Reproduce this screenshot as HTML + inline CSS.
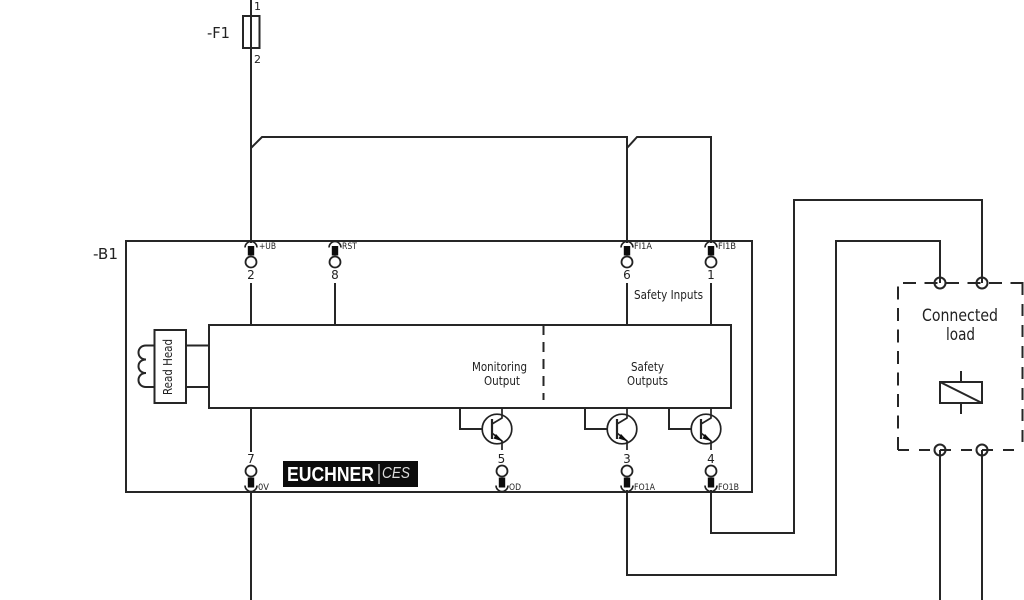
<!DOCTYPE html>
<html>
<head>
<meta charset="utf-8">
<style>
html,body{margin:0;padding:0;background:#fff;width:1024px;height:600px;overflow:hidden}
svg{display:block}
text{font-family:"DejaVu Sans","Liberation Sans",sans-serif;fill:#222}
</style>
</head>
<body>
<svg width="1024" height="600" viewBox="0 0 1024 600" xmlns="http://www.w3.org/2000/svg">
<defs>
<g id="pt">
  <path d="M-6,6.500 A6,6 0 0 1 6,6.500" fill="none" stroke="#222" stroke-width="1.600"/>
  <rect x="-3.200" y="5" width="6.400" height="9.500" fill="#0c0c0c"/>
  <circle cx="0" cy="21" r="5.500" fill="#fff" stroke="#222" stroke-width="1.800"/>
</g>
<g id="pb">
  <path d="M-6,-6.500 A6,6 0 0 0 6,-6.500" fill="none" stroke="#222" stroke-width="1.600"/>
  <rect x="-3.200" y="-14.500" width="6.400" height="10" fill="#0c0c0c"/>
  <circle cx="0" cy="-21" r="5.500" fill="#fff" stroke="#222" stroke-width="1.800"/>
</g>
<g id="tr">
  <circle cx="0" cy="0" r="14.800" fill="#fff" stroke="#222" stroke-width="1.700"/>
  <path d="M-5,-10 V10" stroke="#222" stroke-width="2.200" fill="none"/>
  <path d="M5,-21 V-11 L-5,-5" stroke="#222" stroke-width="1.700" fill="none"/>
  <path d="M-5,4 L5,12 V21" stroke="#222" stroke-width="1.700" fill="none"/>
  <path d="M-1,5 L6,12.500 L-3.500,9.500 Z" fill="#0c0c0c"/>
</g>
</defs>

<g fill="none" stroke="#262626" stroke-width="2">
  <path d="M251,0 V243"/>
  <path d="M251,148 L262,137 H627 V243"/>
  <path d="M627,148 L637,137 H711 V243"/>
  <rect x="243" y="16" width="16.500" height="32"/>
  <rect x="126" y="241" width="626" height="251"/>
  <rect x="209" y="325" width="522" height="83"/>
  <path d="M251,283 V325 M335,283 V325 M627,283 V325 M711,283 V325"/>
  <rect x="154.500" y="330" width="31.500" height="73"/>
  <path d="M186,345.500 H209 M186,387 H209"/>
  <path d="M154,345.500 H146 C136,345.500 136,359.500 146,359.500 C136,359.500 136,373 146,373 C136,373 136,387 146,387 H154"/>
  <path d="M543.500,325 V400" stroke-dasharray="10 7"/>
  <path d="M460,408 V429 H491 M585,408 V429 H616 M669,408 V429 H699"/>
  <path d="M251,408 V452"/>
  <path d="M251,492 V600"/>
  <path d="M711,490 V533 H794 V200 H982 V283"/>
  <path d="M627,490 V575 H836 V241 H940 V283"/>
  <path d="M940,450 V600 M982,450 V600"/>
  <path d="M898,450 V283 H1024" stroke-dasharray="13 8.500"/>
  <path d="M898,450 H1024" stroke-dasharray="11 10"/>
  <path d="M1022.500,283 V450" stroke-dasharray="12 9"/>
  <rect x="940" y="382" width="42" height="21"/>
  <path d="M940,382 L982,403 M961,371 V382 M961,403 V414"/>
  <circle cx="940" cy="283" r="5.500"/>
  <circle cx="982" cy="283" r="5.500"/>
  <circle cx="940" cy="450" r="5.500"/>
  <circle cx="982" cy="450" r="5.500"/>
</g>

<use href="#pt" x="251" y="241"/>
<use href="#pt" x="335" y="241"/>
<use href="#pt" x="627" y="241"/>
<use href="#pt" x="711" y="241"/>
<use href="#pb" x="251" y="492"/>
<use href="#pb" x="502" y="492"/>
<use href="#pb" x="627" y="492"/>
<use href="#pb" x="711" y="492"/>

<use href="#tr" x="497" y="429"/>
<use href="#tr" x="622" y="429"/>
<use href="#tr" x="706" y="429"/>

<rect x="283" y="461" width="135" height="26" fill="#0c0c0c"/>
<text x="287" y="481" font-size="20" font-weight="700" textLength="87" lengthAdjust="spacingAndGlyphs" style="font-family:'Liberation Sans',sans-serif;fill:#fff">EUCHNER</text>
<path d="M379,464 V484" stroke="#fff" stroke-width="1"/>
<text x="382" y="478" font-size="16" font-style="italic" textLength="28" lengthAdjust="spacingAndGlyphs" style="font-family:'Liberation Sans',sans-serif;fill:#ddd">CES</text>

<text x="207" y="38" font-size="15" textLength="23" lengthAdjust="spacingAndGlyphs">-F1</text>
<text x="93" y="259" font-size="15" textLength="25" lengthAdjust="spacingAndGlyphs">-B1</text>
<text x="254" y="10" font-size="11">1</text>
<text x="254" y="63" font-size="11">2</text>

<g font-size="9">
<text x="259" y="249" textLength="17" lengthAdjust="spacingAndGlyphs">+UB</text>
<text x="342" y="249" textLength="15" lengthAdjust="spacingAndGlyphs">RST</text>
<text x="634" y="249" textLength="18" lengthAdjust="spacingAndGlyphs">FI1A</text>
<text x="718" y="249" textLength="18" lengthAdjust="spacingAndGlyphs">FI1B</text>
<text x="258" y="490" textLength="11" lengthAdjust="spacingAndGlyphs">0V</text>
<text x="509" y="490" textLength="12" lengthAdjust="spacingAndGlyphs">OD</text>
<text x="634" y="490" textLength="21" lengthAdjust="spacingAndGlyphs">FO1A</text>
<text x="718" y="490" textLength="21" lengthAdjust="spacingAndGlyphs">FO1B</text>
</g>

<g font-size="12" text-anchor="middle">
<text x="251" y="279">2</text>
<text x="335" y="279">8</text>
<text x="627" y="279">6</text>
<text x="711" y="279">1</text>
<text x="251" y="463">7</text>
<text x="501.500" y="463">5</text>
<text x="627" y="463">3</text>
<text x="711" y="463">4</text>
</g>

<text x="634" y="299" font-size="12" textLength="69" lengthAdjust="spacingAndGlyphs">Safety Inputs</text>
<text x="472" y="371" font-size="12" textLength="55" lengthAdjust="spacingAndGlyphs">Monitoring</text>
<text x="484" y="385" font-size="12" textLength="36" lengthAdjust="spacingAndGlyphs">Output</text>
<text x="631" y="371" font-size="12" textLength="33" lengthAdjust="spacingAndGlyphs">Safety</text>
<text x="627" y="385" font-size="12" textLength="41" lengthAdjust="spacingAndGlyphs">Outputs</text>
<text x="0" y="0" font-size="12.500" transform="translate(172,395) rotate(-90)" textLength="56" lengthAdjust="spacingAndGlyphs">Read Head</text>
<text x="922" y="321" font-size="17" textLength="76" lengthAdjust="spacingAndGlyphs">Connected</text>
<text x="946" y="340" font-size="17" textLength="29" lengthAdjust="spacingAndGlyphs">load</text>
</svg>
</body>
</html>
